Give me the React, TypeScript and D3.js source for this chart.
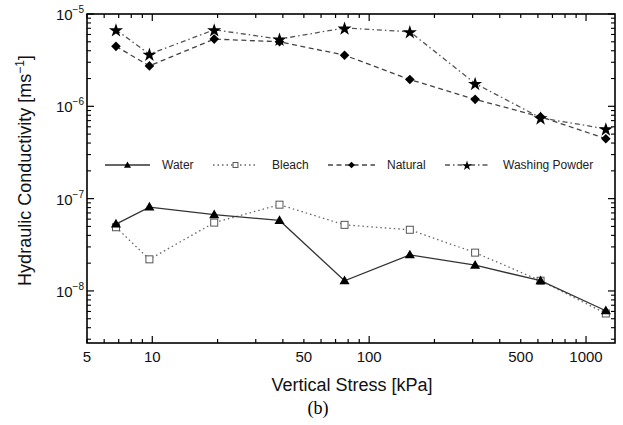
import React from "react";
import * as d3 from "d3";

const stress = [6.8, 9.7, 19.3, 38.6, 77, 154, 308, 617, 1234];
const water = [5.3e-8, 8.1e-8, 6.7e-8, 5.8e-8, 1.29e-8, 2.46e-8, 1.9e-8, 1.29e-8, 6.1e-9];
const bleach = [4.9e-8, 2.2e-8, 5.5e-8, 8.6e-8, 5.2e-8, 4.6e-8, 2.6e-8, 1.29e-8, 5.7e-9];
const natural = [4.46e-6, 2.74e-6, 5.35e-6, 5.0e-6, 3.58e-6, 1.95e-6, 1.19e-6, 7.7e-7, 4.46e-7];
const washing = [6.75e-6, 3.67e-6, 6.75e-6, 5.35e-6, 7.05e-6, 6.43e-6, 1.77e-6, 7.5e-7, 5.7e-7];

const xTickLabels = [5, 10, 50, 100, 500, 1000];
const yDecades = [-5, -6, -7, -8];
const legendNames = ["Water", "Bleach", "Natural", "Washing Powder"];

const W = 623;
const H = 425;
const M = { left: 87, right: 615, top: 14, bottom: 343 };

const x = d3.scaleLog().domain([5, 1360]).range([M.left, M.right]);
const y = d3.scaleLog().domain([2.73e-9, 1e-5]).range([M.bottom, M.top]);

const font = "'Liberation Sans', Arial, sans-serif";

type Marker = "tri" | "sq" | "dia" | "star";

const seriesList: { name: string; values: number[]; dash: string; stroke: string; marker: Marker }[] = [
  { name: legendNames[0], values: water, dash: "", stroke: "#333", marker: "tri" },
  { name: legendNames[1], values: bleach, dash: "1.5,3", stroke: "#666", marker: "sq" },
  { name: legendNames[2], values: natural, dash: "5,3.5", stroke: "#444", marker: "dia" },
  { name: legendNames[3], values: washing, dash: "5,3,1.5,3", stroke: "#555", marker: "star" },
];
// bleach squares sit underneath the water triangles
const drawOrder = [1, 0, 2, 3];

function MarkerShape({ kind, cx, cy, scale = 1 }: { kind: Marker; cx: number; cy: number; scale?: number }) {
  if (kind === "tri") {
    const p = d3.symbol(d3.symbolTriangle, 44 * scale * scale)();
    return <path d={p || ""} transform={`translate(${cx},${cy + 0.6})`} fill="#000" />;
  }
  if (kind === "sq") {
    const s = 7 * scale;
    return <rect x={cx - s / 2} y={cy - s / 2} width={s} height={s} fill="#fff" stroke="#555" strokeWidth={1} />;
  }
  if (kind === "dia") {
    const r = 4.8 * scale;
    return <path d={`M${cx},${cy - r}L${cx + r},${cy}L${cx},${cy + r}L${cx - r},${cy}Z`} fill="#000" />;
  }
  const p = d3.symbol(d3.symbolStar, 62 * scale * scale)();
  return <path d={p || ""} transform={`translate(${cx},${cy + 0.8})`} fill="#000" />;
}

export default function App() {
  const line = d3
    .line<number>()
    .x((_, i) => x(stress[i]))
    .y((v) => y(v));

  // tick positions (inward ticks on all four sides)
  const xMinor: number[] = [];
  for (let d = 1; d <= 1000; d *= 10) {
    for (let k = 1; k < 10; k++) {
      const v = k * d;
      if (v >= 5 && v <= 1360) xMinor.push(v);
    }
  }
  const xMajor = [10, 100, 1000];
  const yMinor: number[] = [];
  for (let e = -9; e <= -6; e++) {
    for (let k = 2; k < 10; k++) {
      const v = k * Math.pow(10, e);
      if (v >= 2.73e-9 && v <= 1e-5) yMinor.push(v);
    }
  }

  const legendY = 165;
  const legendItems = [
    { x1: 105, x2: 150, tx: 162 },
    { x1: 213, x2: 258, tx: 272 },
    { x1: 328, x2: 375, tx: 387 },
    { x1: 445, x2: 489, tx: 503 },
  ];

  return (
    <svg width={W} height={H} style={{ position: "absolute", left: 0, top: 0, background: "#fff" }}>
      <rect width={W} height={H} fill="#fff" />
      {/* frame */}
      <rect x={M.left} y={M.top} width={M.right - M.left} height={M.bottom - M.top} fill="none" stroke="#000" strokeWidth={1.6} />

      {/* x ticks */}
      {xMinor.map((v) => {
        const len = xMajor.includes(v) ? 7 : 4;
        return (
          <g key={"xt" + v}>
            <line x1={x(v)} x2={x(v)} y1={M.bottom} y2={M.bottom - len} stroke="#000" strokeWidth={1.2} />
            <line x1={x(v)} x2={x(v)} y1={M.top} y2={M.top + len} stroke="#000" strokeWidth={1.2} />
          </g>
        );
      })}
      {/* y ticks */}
      {yDecades.map((e) => {
        const v = Math.pow(10, e);
        return (
          <g key={"yM" + e}>
            <line x1={M.left} x2={M.left + 7} y1={y(v)} y2={y(v)} stroke="#000" strokeWidth={1.2} />
            <line x1={M.right} x2={M.right - 7} y1={y(v)} y2={y(v)} stroke="#000" strokeWidth={1.2} />
          </g>
        );
      })}
      {yMinor.map((v, i) => (
        <g key={"ym" + i}>
          <line x1={M.left} x2={M.left + 4} y1={y(v)} y2={y(v)} stroke="#000" strokeWidth={1.1} />
          <line x1={M.right} x2={M.right - 4} y1={y(v)} y2={y(v)} stroke="#000" strokeWidth={1.1} />
        </g>
      ))}

      {/* x tick labels */}
      {xTickLabels.map((v) => (
        <text key={"xl" + v} x={x(v)} y={362} textAnchor="middle" fontFamily={font} fontSize={15} fill="#111">
          {v}
        </text>
      ))}
      {/* y tick labels */}
      {yDecades.map((e) => (
        <text key={"yl" + e} x={M.left - 3} y={y(Math.pow(10, e)) + 6} textAnchor="end" fontFamily={font} fontSize={15} fill="#111">
          10
          <tspan dy={-7} fontSize={10}>
            {"\u2212" + Math.abs(e)}
          </tspan>
        </text>
      ))}

      {/* axis titles */}
      <text x={(M.left + M.right) / 2 + 1} y={391} textAnchor="middle" fontFamily={font} fontSize={18} fill="#111">
        Vertical Stress [kPa]
      </text>
      <text transform={`translate(31,${(M.top + M.bottom) / 2 - 8}) rotate(-90)`} textAnchor="middle" fontFamily={font} fontSize={18} fill="#111">
        Hydraulic  Conductivity [ms
        <tspan dy={-7} fontSize={12}>
          −1
        </tspan>
        <tspan dy={7}>]</tspan>
      </text>
      <text x={318} y={414} textAnchor="middle" fontFamily="'Liberation Serif', 'Times New Roman', serif" fontSize={18} fill="#000">
        (b)
      </text>

      {/* series */}
      {drawOrder.map((si) => {
        const s = seriesList[si];
        return (
          <g key={s.name}>
            <path d={line(s.values) || ""} fill="none" stroke={s.stroke} strokeWidth={1.3} strokeDasharray={s.dash} />
            {s.values.map((v, i) => (
              <MarkerShape key={i} kind={s.marker} cx={x(stress[i])} cy={y(v)} />
            ))}
          </g>
        );
      })}

      {/* legend */}
      {seriesList.map((s, i) => {
        const it = legendItems[i];
        return (
          <g key={"lg" + s.name}>
            <line x1={it.x1} x2={it.x2} y1={legendY} y2={legendY} stroke={s.stroke} strokeWidth={1.3} strokeDasharray={s.dash} />
            <MarkerShape kind={s.marker} cx={(it.x1 + it.x2) / 2} cy={legendY} scale={0.7} />
            <text x={it.tx} y={legendY + 4} fontFamily={font} fontSize={12} fill="#222">
              {s.name}
            </text>
          </g>
        );
      })}
    </svg>
  );
}
